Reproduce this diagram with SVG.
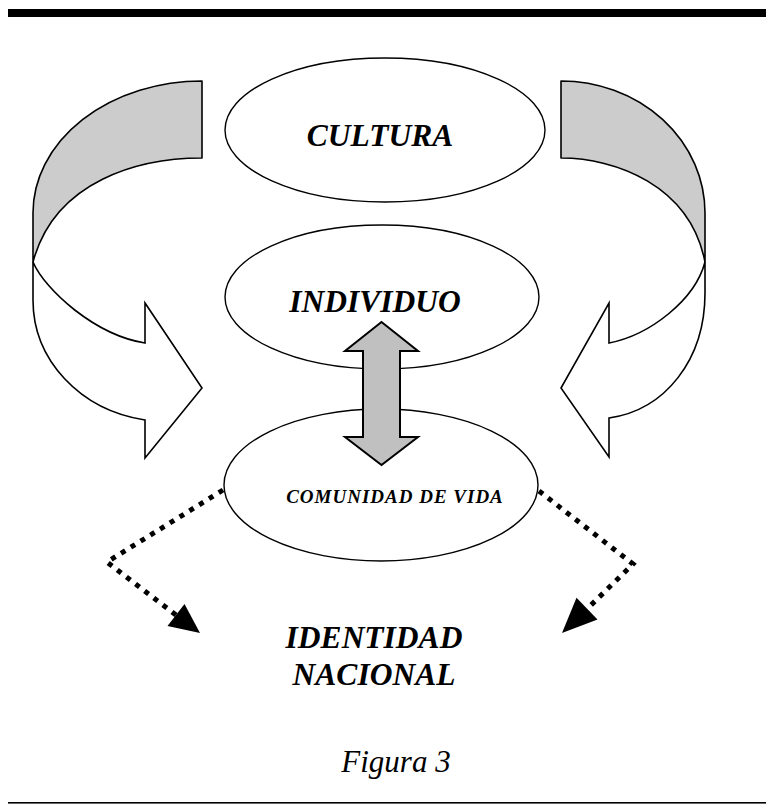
<svg xmlns="http://www.w3.org/2000/svg" width="766" height="805" viewBox="0 0 766 805">
  <style>
    .node { fill: #ffffff; stroke: #000000; stroke-width: 1.4; }
    .label { font-family: "Liberation Serif", "Times New Roman", serif; font-weight: bold; font-style: italic; fill: #000000; text-anchor: middle; }
    .band { fill: #cccccc; stroke: #000000; stroke-width: 1.6; stroke-linejoin: round; }
    .body { fill: #ffffff; stroke: #000000; stroke-width: 1.6; stroke-linejoin: miter; }
    .dots { fill: none; stroke: #000000; stroke-width: 5; stroke-dasharray: 5 6.5; }
    .head { fill: #000000; stroke: none; }
  </style>

  <!-- page rules -->
  <rect x="8" y="9" width="758" height="8" fill="#000000"/>
  <rect x="8" y="802" width="758" height="1.6" fill="#000000"/>

  <g id="connectors">
    <!-- left curved arrow: white body, then grey band -->
    <g id="curved-left">
      <path class="body" d="M33,262 L33,300 C33,360 80,410 145,420 L145,458 L202,388 L145,303 L145,343 C95,335 45,290 33,262 Z"/>
      <path class="band" d="M202,81 A169,132 0 0 0 33,213 L33,262 C55,180 140,158 202,158 Z"/>
    </g>
    <!-- right curved arrow -->
    <g id="curved-right">
      <path class="body" d="M705,262 L705,293 C705,360 665,410 609,418 L609,457 L561,388 L609,303 L609,343 C650,335 695,300 705,262 Z"/>
      <path class="band" d="M561,81 A144,132 0 0 1 705,213 L705,262 C690,185 615,158 561,158 Z"/>
    </g>
    <!-- dotted links to the bottom label -->
    <path class="dots" d="M223,490 L107,562 L176,615"/>
    <polygon class="head" points="200,633 167.5,626 184.5,604"/>
    <path class="dots" d="M539,491 L633,564 L586,610"/>
    <polygon class="head" points="562,633 576.5,597.8 597.5,619.4"/>
  </g>

  <g id="cultura">
    <ellipse class="node" cx="385" cy="130" rx="160" ry="72"/>
    <text class="label" x="380" y="146" font-size="31.5">CULTURA</text>
  </g>

  <g id="individuo">
    <ellipse class="node" cx="382" cy="297" rx="157" ry="72"/>
    <text class="label" x="375" y="312" font-size="31.5">INDIVIDUO</text>
  </g>

  <g id="comunidad">
    <ellipse class="node" cx="381" cy="485" rx="157" ry="76"/>
    <text class="label" x="395" y="503" font-size="19" letter-spacing="1">COMUNIDAD DE VIDA</text>
  </g>

  <!-- two-way link between individual and community -->
  <g id="double-arrow">
    <polygon points="381.5,322 418,351 400,351 400,437 418,437 381.5,465 345,437 363,437 363,351 345,351" fill="#c0c0c0" stroke="#000000" stroke-width="2" stroke-linejoin="miter"/>
  </g>

  <g id="identidad">
    <text class="label" x="374" y="648" font-size="31.5">IDENTIDAD</text>
    <text class="label" x="374" y="685" font-size="31.5">NACIONAL</text>
  </g>

  <text x="396" y="772" font-family="'Liberation Serif', 'Times New Roman', serif" font-style="italic" font-size="31" text-anchor="middle" fill="#000000">Figura 3</text>
</svg>
